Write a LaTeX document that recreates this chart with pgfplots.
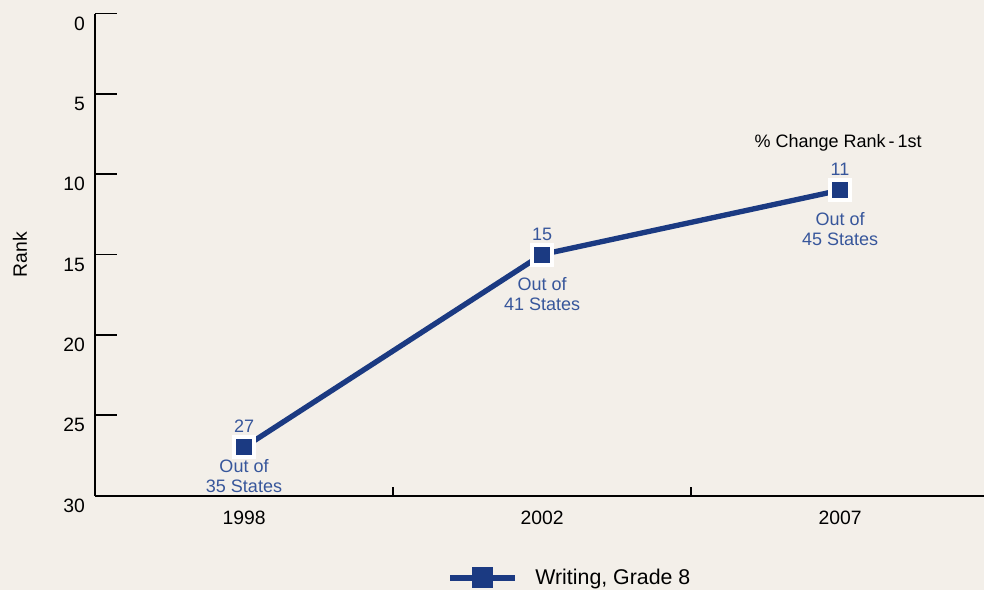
\documentclass[border=0pt]{standalone}
\usepackage{pgfplots}
\pgfplotsset{compat=1.18}
\usepackage{fontspec}
\setmainfont{Liberation Sans}
\definecolor{bg}{RGB}{243,239,233}
\definecolor{navy}{RGB}{27,58,130}
\definecolor{lblue}{RGB}{55,86,155}
\begin{document}
\begin{tikzpicture}
\fill[bg] (-71.25pt,-70.875pt) rectangle (666.75pt,371.625pt);
\useasboundingbox (-71.25pt,-70.875pt) rectangle (666.75pt,371.625pt);
\begin{axis}[
  at={(0,0)}, anchor=south west,
  scale only axis, width=666.75pt, height=361.5pt,
  xmin=-0.5, xmax=2.483, ymin=0, ymax=30, y dir=reverse,
  axis x line=bottom, axis y line=left,
  axis line style={-, line width=1.5pt, black},
  xtick={0,1,2}, xticklabels={1998,2002,2007},
  x tick style={draw=none},
  ytick={0,5,...,30},
  y tick style={line width=1.4pt, black},
  tick align=inside, major tick length=16.5pt,
  tick label style={font=\fontsize{14.5}{17}\selectfont, text=black},
  yticklabel style={yshift=-7.5pt, xshift=-4pt},
  xticklabel style={yshift=-8pt},
  /pgf/number format/assume math mode=true,
  ylabel={Rank},
  every axis y label/.style={at={(axis description cs:-0.0844,0.5)}, rotate=90, anchor=center, font=\fontsize{14.5}{17}\selectfont},
  legend style={at={(0.3960,-0.1705)}, anchor=west, draw=none, fill=none,
    font=\fontsize{16}{19}\selectfont, inner sep=0pt, outer sep=0pt},
  legend image code/.code={
    \draw[navy, line width=4.5pt] (0pt,0pt) -- (48.75pt,0pt);
    \fill[navy] (18.4pt,-6pt) rectangle (30.4pt,6pt);
    \path (60pt,0pt);
  },
  clip=false,
]
\addplot[navy, line width=4pt, mark=square*, mark size=7.5pt,
  mark options={fill=navy, draw=white, line width=3pt}]
  coordinates {(0,27) (1,15) (2,11)};
\addlegendentry{Writing, Grade 8}
\draw[line width=1.4pt] (axis cs:0.5,30) -- (axis cs:0.5,29.44);
\draw[line width=1.4pt] (axis cs:1.5,30) -- (axis cs:1.5,29.44);
\begin{scope}[every node/.style={text=lblue, font=\fontsize{13.5}{15}\selectfont, align=center}]
\node[yshift=15.75pt] at (axis cs:0,27) {27};
\node[yshift=-21.75pt] at (axis cs:0,27) {Out of\\35 States};
\node[yshift=15pt] at (axis cs:1,15) {15};
\node[yshift=-29.6pt] at (axis cs:1,15) {Out of\\41 States};
\node[yshift=15.75pt] at (axis cs:2,11) {11};
\node[yshift=-29.25pt] at (axis cs:2,11) {Out of\\45 States};
\node[text=black, yshift=35.25pt, xshift=-1.5pt] at (axis cs:2,11) {\% Change Rank\,-\,1st};
\end{scope}
\end{axis}
\end{tikzpicture}
\end{document}
